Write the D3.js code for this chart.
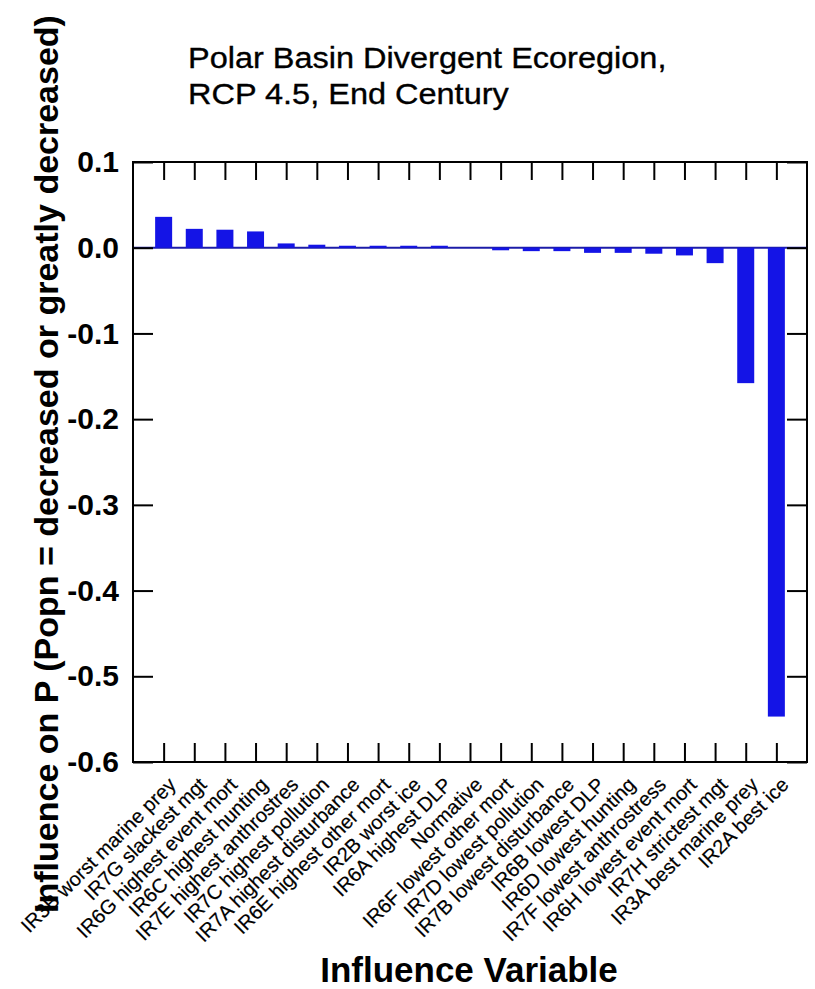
<!DOCTYPE html>
<html>
<head>
<meta charset="utf-8">
<script src="https://cdn.jsdelivr.net/npm/d3@7/dist/d3.min.js"></script>
<style>
  html, body { margin: 0; padding: 0; background: #ffffff; }
  svg { display: block; }
  text { font-family: "Liberation Sans", Arial, Helvetica, sans-serif; fill: #000; }
</style>
</head>
<body>
<div id="chart"></div>
<script>
// ---- data ----
const categories = [
  "IR3B worst marine prey",
  "IR7G slackest mgt",
  "IR6G highest event mort",
  "IR6C highest hunting",
  "IR7E highest anthrostres",
  "IR7C highest pollution",
  "IR7A highest disturbance",
  "IR6E highest other mort",
  "IR2B worst ice",
  "IR6A highest DLP",
  "Normative",
  "IR6F lowest other mort",
  "IR7D lowest pollution",
  "IR7B lowest disturbance",
  "IR6B lowest DLP",
  "IR6D lowest hunting",
  "IR7F lowest anthrostress",
  "IR6H lowest event mort",
  "IR7H strictest mgt",
  "IR3A best marine prey",
  "IR2A best ice"
];
const values = [
  0.036, 0.022, 0.021, 0.019, 0.005, 0.0035, 0.0023, 0.0023, 0.0023, 0.0023,
  0.0, -0.003, -0.004, -0.004, -0.006, -0.006, -0.007, -0.009, -0.018, -0.158, -0.547
];
const yTicks = [0.1, 0.0, -0.1, -0.2, -0.3, -0.4, -0.5, -0.6];
const yTickLabels = ["0.1", "0.0", "-0.1", "-0.2", "-0.3", "-0.4", "-0.5", "-0.6"];
const titleLines = ["Polar Basin Divergent Ecoregion,", "RCP 4.5, End Century"];
const xTitle = "Influence Variable";
const yTitle = "Influence on P (Popn = decreased or greatly decreased)";

// ---- layout ----
const W = 815, H = 989;
const L = 133, R = 807, T = 162, B = 762;

const svg = d3.select("#chart").append("svg")
  .attr("width", W).attr("height", H);

const x = d3.scaleLinear().domain([0, categories.length + 1]).range([L, R]);
const y = d3.scaleLinear().domain([-0.6, 0.1]).range([B, T]);
const barW = 17;

// zero line
svg.append("line")
  .attr("x1", L).attr("x2", R)
  .attr("y1", y(0)).attr("y2", y(0))
  .attr("stroke", "#1c1ca8").attr("stroke-width", 2);

// bars
svg.append("g").selectAll("rect")
  .data(values)
  .join("rect")
  .attr("x", (d, i) => x(i + 1) - barW / 2)
  .attr("width", barW)
  .attr("y", d => y(Math.max(0, d)))
  .attr("height", d => Math.abs(y(d) - y(0)))
  .attr("fill", "#1414e6");

// left axis
const yAxisL = d3.axisLeft(y)
  .tickValues(yTicks)
  .tickSize(-20)
  .tickPadding(14)
  .tickFormat((d, i) => yTickLabels[i]);
const gL = svg.append("g").attr("transform", `translate(${L},0)`).call(yAxisL);
gL.select(".domain").remove();
gL.selectAll(".tick line").attr("stroke", "#000").attr("stroke-width", 2);
gL.selectAll(".tick text")
  .attr("font-size", 30).attr("font-weight", "bold")
  .attr("font-family", "Liberation Sans, Arial, sans-serif")
  .attr("fill", "#000");

// right axis ticks (inward)
const yAxisR = d3.axisRight(y).tickValues(yTicks).tickSize(-20).tickFormat("");
const gR = svg.append("g").attr("transform", `translate(${R},0)`).call(yAxisR);
gR.select(".domain").remove();
gR.selectAll(".tick line").attr("stroke", "#000").attr("stroke-width", 2);

// top ticks (inward)
const xIdx = d3.range(1, categories.length + 1);
const xAxisT = d3.axisTop(x).tickValues(xIdx).tickSize(-18).tickFormat("");
const gT = svg.append("g").attr("transform", `translate(0,${T})`).call(xAxisT);
gT.select(".domain").remove();
gT.selectAll(".tick line").attr("stroke", "#000").attr("stroke-width", 2);

// bottom axis with rotated labels
const xAxisB = d3.axisBottom(x).tickValues(xIdx).tickSize(-19)
  .tickFormat(d => categories[d - 1]);
const gB = svg.append("g").attr("transform", `translate(0,${B})`).call(xAxisB);
gB.select(".domain").remove();
gB.selectAll(".tick line").attr("stroke", "#000").attr("stroke-width", 2);
gB.selectAll(".tick text")
  .attr("font-size", 20)
  .attr("font-family", "Liberation Sans, Arial, sans-serif")
  .attr("fill", "#000")
  .attr("stroke", "#000").attr("stroke-width", 0.2)
  .attr("text-anchor", "end")
  .attr("x", 0).attr("y", 0).attr("dy", 0)
  .attr("transform", "translate(13,24) rotate(-45)");

// frame
svg.append("rect")
  .attr("x", L).attr("y", T)
  .attr("width", R - L).attr("height", B - T)
  .attr("fill", "none").attr("stroke", "#000").attr("stroke-width", 2);

// title (the reference face is a little wider than Arial: stretch horizontally)
const titleSel = svg.append("g").selectAll("text")
  .data(titleLines)
  .join("text")
  .attr("x", 188)
  .attr("y", (d, i) => 68 + i * 36)
  .attr("font-size", 29)
  .attr("stroke", "#000").attr("stroke-width", 0.35)
  .text(d => d);
titleSel.each(function () {
  const len = this.getComputedTextLength();
  d3.select(this).attr("textLength", len * 1.12).attr("lengthAdjust", "spacingAndGlyphs");
});

// x title
svg.append("text")
  .attr("x", 469).attr("y", 982)
  .attr("text-anchor", "middle")
  .attr("font-size", 35).attr("font-weight", "bold")
  .text(xTitle);

// y title
svg.append("text")
  .attr("transform", "translate(58,464) rotate(-90)")
  .attr("text-anchor", "middle")
  .attr("font-size", 34).attr("font-weight", "bold")
  .text(yTitle);
</script>
</body>
</html>
